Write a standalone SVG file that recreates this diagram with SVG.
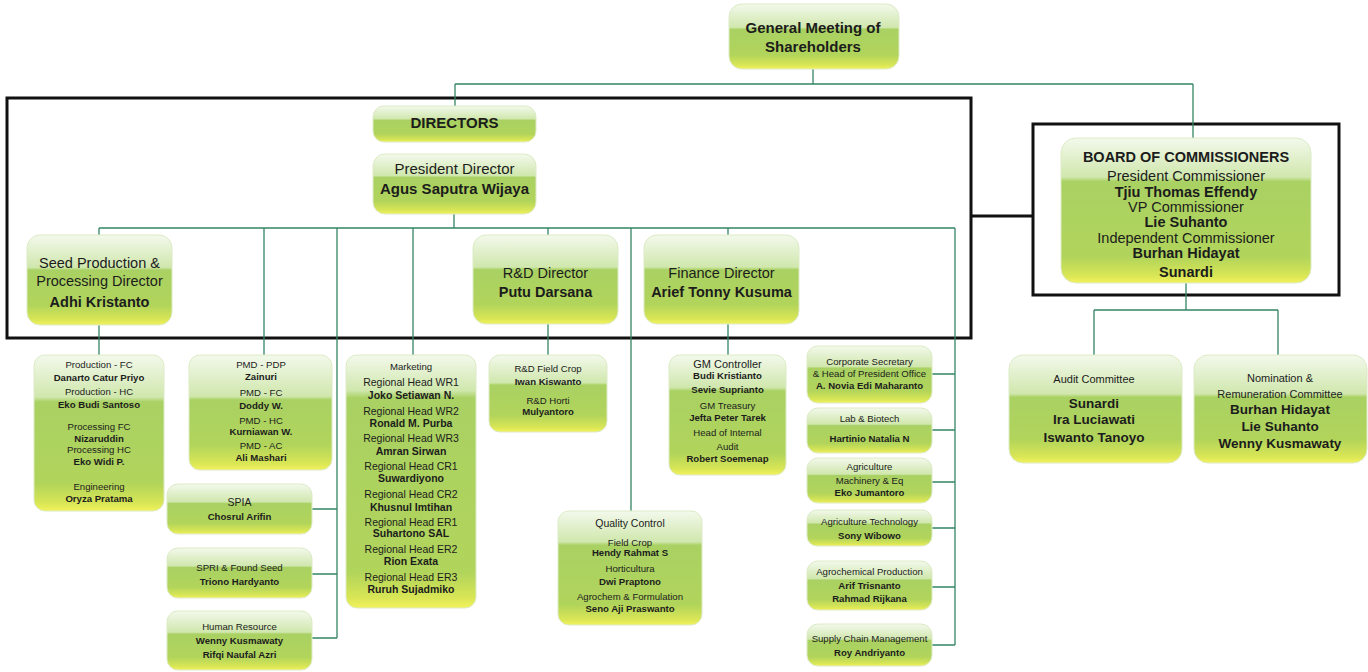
<svg xmlns="http://www.w3.org/2000/svg" width="1368" height="672" viewBox="0 0 1368 672">
<defs>
<linearGradient id="g" x1="0" y1="0" x2="0" y2="1">
<stop offset="0" stop-color="#f3f9ec"/>
<stop offset="0.36" stop-color="#d0e7ad"/>
<stop offset="0.39" stop-color="#a9d163"/>
<stop offset="0.78" stop-color="#b1d45b"/>
<stop offset="0.94" stop-color="#d9e655"/>
<stop offset="1" stop-color="#f3f25c"/>
</linearGradient>
<linearGradient id="gm" x1="0" y1="0" x2="0" y2="1">
<stop offset="0" stop-color="#f3f9ec"/>
<stop offset="0.27" stop-color="#d0e7ad"/>
<stop offset="0.30" stop-color="#a9d163"/>
<stop offset="0.82" stop-color="#b1d45b"/>
<stop offset="0.95" stop-color="#d9e655"/>
<stop offset="1" stop-color="#f3f25c"/>
</linearGradient>
<linearGradient id="gt" x1="0" y1="0" x2="0" y2="1">
<stop offset="0" stop-color="#f3f9ec"/>
<stop offset="0.14" stop-color="#d0e7ad"/>
<stop offset="0.17" stop-color="#a9d163"/>
<stop offset="0.86" stop-color="#b1d45b"/>
<stop offset="0.96" stop-color="#d9e655"/>
<stop offset="1" stop-color="#f3f25c"/>
</linearGradient>
<style>
.n{fill:url(#g);stroke:#dcebc6;stroke-width:1}
.nm{fill:url(#gm);stroke:#dcebc6;stroke-width:1}
.nt{fill:url(#gt);stroke:#dcebc6;stroke-width:1}
.c{fill:none;stroke:#358566;stroke-width:1.3}
.f{fill:none;stroke:#111;stroke-width:3}
text{font-family:"Liberation Sans",Arial,sans-serif;fill:#1c1c1c;text-anchor:middle}
.b{font-weight:bold}
.s15{font-size:15px}
.s14{font-size:14.5px}
.s13{font-size:13.5px}
.s11{font-size:11px}
.s10{font-size:10.5px}
.s9{font-size:9.6px}
</style>
</defs>
<g id="frames">
<rect class="f" x="7" y="98" width="964" height="240"/>
<rect class="f" x="1033" y="124" width="306" height="171"/>
<path class="f" d="M971,216 H1033"/>
</g>
<g id="connectors">
<path class="c" d="M813,69 V84 M455,84 H1193 M455,84 V106 M1193,84 V138"/>
<path class="c" d="M454,214 V228 M99,228 H955 M99,228 V235 M99,325 V355 M264,228 V355 M337,228 V638 M413,228 V355 M548,228 V235 M548,324 V355 M631,228 V511 M728,228 V235 M728,324 V355 M955,228 V645"/>
<path class="c" d="M312,509 H337 M312,574 H337 M312,638 H337"/>
<path class="c" d="M932,374 H955 M932,430 H955 M932,482 H955 M932,528 H955 M932,587 H955 M932,645 H955"/>
<path class="c" d="M1186,283 V310 M1094,310 H1278 M1094,310 V355 M1278,310 V355"/>
</g>
<g id="gms">
<rect class="n" x="729" y="4" width="170" height="65" rx="13"/>
<text class="b s15"><tspan x="813" y="33.4">General Meeting of</tspan><tspan x="813" y="52.4">Shareholders</tspan></text>
</g>
<g id="directors">
<rect class="n" x="373" y="106" width="163" height="36" rx="11"/>
<text class="b s15" x="454.5" y="128.4">DIRECTORS</text>
</g>
<g id="president">
<rect class="n" x="373" y="154" width="163" height="60" rx="12"/>
<text class="s15" x="454.5" y="174.4">President Director</text>
<text class="b s15" x="454.5" y="194.4">Agus Saputra Wijaya</text>
</g>
<g id="seed">
<rect class="n" x="27" y="235" width="145" height="90" rx="13"/>
<text class="s14"><tspan x="99.5" y="268.2">Seed Production &amp;</tspan><tspan x="99.5" y="286.2">Processing Director</tspan></text>
<text class="b s14" x="99.5" y="307.2">Adhi Kristanto</text>
</g>
<g id="rnd">
<rect class="n" x="473" y="235" width="145" height="89" rx="13"/>
<text class="s14" x="545.5" y="278.2">R&amp;D Director</text>
<text class="b s14" x="545.5" y="297.2">Putu Darsana</text>
</g>
<g id="finance">
<rect class="n" x="644" y="235" width="155" height="89" rx="13"/>
<text class="s14" x="721.5" y="278.2">Finance Director</text>
<text class="b s14" x="721.5" y="297.2">Arief Tonny Kusuma</text>
</g>
<g id="board">
<rect class="nm" x="1061" y="138" width="250" height="145" rx="15"/>
<text class="b s14" x="1186" y="162">BOARD OF COMMISSIONERS</text>
<text class="s14" x="1186" y="181">President Commissioner</text>
<text class="b s14" x="1186" y="197">Tjiu Thomas Effendy</text>
<text class="s14" x="1186" y="212">VP Commissioner</text>
<text class="b s14" x="1186" y="227">Lie Suhanto</text>
<text class="s14" x="1186" y="243">Independent Commissioner</text>
<text class="b s14" x="1186" y="258">Burhan Hidayat</text>
<text class="b s14" x="1186" y="277">Sunardi</text>
</g>
<g id="audit">
<rect class="n" x="1009" y="355" width="173" height="108" rx="14"/>
<text class="s11" x="1094" y="383">Audit Committee</text>
<text class="b s13"><tspan x="1094" y="408">Sunardi</tspan><tspan x="1094" y="424">Ira Luciawati</tspan><tspan x="1094" y="442">Iswanto Tanoyo</tspan></text>
</g>
<g id="nomination">
<rect class="n" x="1194" y="355" width="173" height="108" rx="14"/>
<text class="s11"><tspan x="1280" y="382">Nomination &amp;</tspan><tspan x="1280" y="398">Remuneration Committee</tspan></text>
<text class="b s13"><tspan x="1280" y="414">Burhan Hidayat</tspan><tspan x="1280" y="431">Lie Suhanto</tspan><tspan x="1280" y="448">Wenny Kusmawaty</tspan></text>
</g>
<g id="production">
<rect class="nm" x="34" y="355" width="130" height="156" rx="11"/>
<text class="s9"><tspan x="99" y="368.4">Production - FC</tspan><tspan x="99" y="395.4">Production - HC</tspan><tspan x="99" y="430.4">Processing FC</tspan><tspan x="99" y="453.4">Processing HC</tspan><tspan x="99" y="490.4">Engineering</tspan></text>
<text class="b s9"><tspan x="99" y="381.4">Danarto Catur Priyo</tspan><tspan x="99" y="408.4">Eko Budi Santoso</tspan><tspan x="99" y="442.4">Nizaruddin</tspan><tspan x="99" y="465.4">Eko Widi P.</tspan><tspan x="99" y="502.4">Oryza Pratama</tspan></text>
</g>
<g id="pmd">
<rect class="n" x="189" y="355" width="143" height="115" rx="11"/>
<text class="s9"><tspan x="261" y="368.4">PMD - PDP</tspan><tspan x="261" y="396.4">PMD - FC</tspan><tspan x="261" y="424.4">PMD - HC</tspan><tspan x="261" y="449.4">PMD - AC</tspan></text>
<text class="b s9"><tspan x="261" y="380.4">Zainuri</tspan><tspan x="261" y="409.4">Doddy W.</tspan><tspan x="261" y="435.4">Kurniawan W.</tspan><tspan x="261" y="461.4">Ali Mashari</tspan></text>
</g>
<g id="spia">
<rect class="n" x="167" y="484" width="145" height="50" rx="11"/>
<text class="s10" x="239.5" y="505.8">SPIA</text>
<text class="b s9" x="239.5" y="520.4">Chosrul Arifin</text>
</g>
<g id="spri">
<rect class="n" x="167" y="548" width="145" height="50" rx="11"/>
<text class="s9" x="239.5" y="571.4">SPRI &amp; Found Seed</text>
<text class="b s9" x="239.5" y="585.4">Triono Hardyanto</text>
</g>
<g id="hr">
<rect class="n" x="167" y="611" width="145" height="59" rx="11"/>
<text class="s9" x="239.5" y="630.4">Human Resource</text>
<text class="b s9"><tspan x="239.5" y="644.4">Wenny Kusmawaty</tspan><tspan x="239.5" y="658.4">Rifqi Naufal Azri</tspan></text>
</g>
<g id="marketing">
<rect class="nt" x="346" y="355" width="130" height="253" rx="11"/>
<text class="s9" x="411" y="370.4">Marketing</text>
<text class="s10"><tspan x="411" y="385.8">Regional Head WR1</tspan><tspan x="411" y="414.8">Regional Head WR2</tspan><tspan x="411" y="441.8">Regional Head WR3</tspan><tspan x="411" y="469.8">Regional Head CR1</tspan><tspan x="411" y="497.8">Regional Head CR2</tspan><tspan x="411" y="525.8">Regional Head ER1</tspan><tspan x="411" y="552.8">Regional Head ER2</tspan><tspan x="411" y="580.8">Regional Head ER3</tspan></text>
<text class="b s10"><tspan x="411" y="398.8">Joko Setiawan N.</tspan><tspan x="411" y="426.8">Ronald M. Purba</tspan><tspan x="411" y="454.8">Amran Sirwan</tspan><tspan x="411" y="481.8">Suwardiyono</tspan><tspan x="411" y="510.8">Khusnul Imtihan</tspan><tspan x="411" y="536.8">Suhartono SAL</tspan><tspan x="411" y="564.8">Rion Exata</tspan><tspan x="411" y="592.8">Ruruh Sujadmiko</tspan></text>
</g>
<g id="rnd-field">
<rect class="n" x="489" y="355" width="118" height="77" rx="11"/>
<text class="s9"><tspan x="548" y="372.4">R&amp;D Field Crop</tspan><tspan x="548" y="404.4">R&amp;D Horti</tspan></text>
<text class="b s9"><tspan x="548" y="385.4">Iwan Kiswanto</tspan><tspan x="548" y="415">Mulyantoro</tspan></text>
</g>
<g id="gm-controller">
<rect class="nm" x="669" y="355" width="117" height="120" rx="11"/>
<text class="s11" x="727.5" y="368">GM Controller</text>
<text class="s9"><tspan x="727.5" y="409.4">GM Treasury</tspan><tspan x="727.5" y="436.4">Head of Internal</tspan><tspan x="727.5" y="450.4">Audit</tspan></text>
<text class="b s9"><tspan x="727.5" y="379.4">Budi Kristianto</tspan><tspan x="727.5" y="393.4">Sevie Suprianto</tspan><tspan x="727.5" y="421.4">Jefta Peter Tarek</tspan><tspan x="727.5" y="462.4">Robert Soemenap</tspan></text>
</g>
<g id="qc">
<rect class="nm" x="558" y="511" width="144" height="114" rx="11"/>
<text class="s10" x="630" y="526.8">Quality Control</text>
<text class="s9"><tspan x="630" y="546.4">Field Crop</tspan><tspan x="630" y="572.4">Horticultura</tspan><tspan x="630" y="600.4">Agrochem &amp; Formulation</tspan></text>
<text class="b s9"><tspan x="630" y="556.4">Hendy Rahmat S</tspan><tspan x="630" y="585.4">Dwi Praptono</tspan><tspan x="630" y="612.4">Seno Aji Praswanto</tspan></text>
</g>
<g id="corp-sec">
<rect class="n" x="807" y="346" width="125" height="57" rx="11"/>
<text class="s9"><tspan x="869.5" y="365.4">Corporate Secretary</tspan><tspan x="869.5" y="377.4">&amp; Head of President Office</tspan></text>
<text class="b s9" x="869.5" y="389.4">A. Novia Edi Maharanto</text>
</g>
<g id="lab">
<rect class="n" x="807" y="408" width="125" height="45" rx="11"/>
<text class="s9" x="869.5" y="422.4">Lab &amp; Biotech</text>
<text class="b s9" x="869.5" y="442.4">Hartinio Natalia N</text>
</g>
<g id="agri-mach">
<rect class="n" x="807" y="458" width="125" height="45" rx="11"/>
<text class="s9"><tspan x="869.5" y="470.4">Agriculture</tspan><tspan x="869.5" y="484.4">Machinery &amp; Eq</tspan></text>
<text class="b s9" x="869.5" y="496.4">Eko Jumantoro</text>
</g>
<g id="agri-tech">
<rect class="n" x="807" y="510" width="125" height="36" rx="10"/>
<text class="s9" x="869.5" y="525.4">Agriculture Technology</text>
<text class="b s9" x="869.5" y="539.4">Sony Wibowo</text>
</g>
<g id="agrochem">
<rect class="n" x="807" y="561" width="125" height="49" rx="11"/>
<text class="s9" x="869.5" y="575.4">Agrochemical Production</text>
<text class="b s9"><tspan x="869.5" y="589.4">Arif Trisnanto</tspan><tspan x="869.5" y="602.4">Rahmad Rijkana</tspan></text>
</g>
<g id="supply">
<rect class="n" x="807" y="624" width="125" height="42" rx="11"/>
<text class="s9" x="869.5" y="642.4">Supply Chain Management</text>
<text class="b s9" x="869.5" y="656.4">Roy Andriyanto</text>
</g>
</svg>
